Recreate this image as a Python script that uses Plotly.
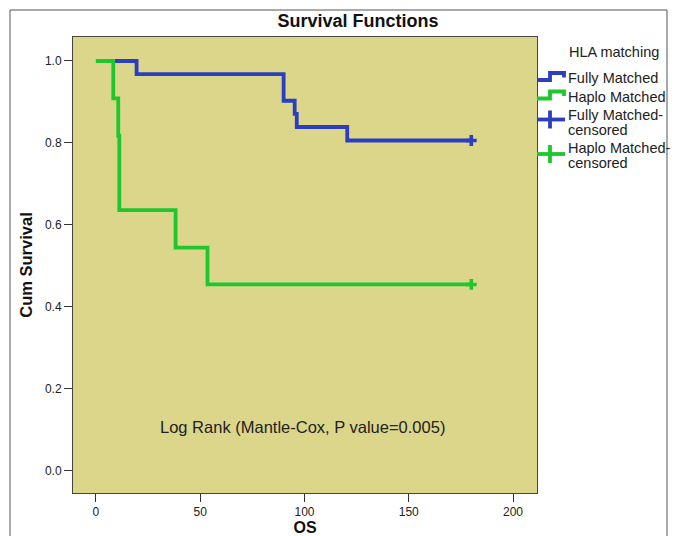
import plotly.graph_objects as go

# Data
fully_t = [0, 19.5, 90, 95.3, 96.3, 120.5, 180]
fully_s = [1.0, 0.968, 0.903, 0.871, 0.839, 0.806, 0.806]
haplo_t = [0, 8.3, 10.7, 11.2, 38.2, 53.5, 180]
haplo_s = [1.0, 0.909, 0.818, 0.636, 0.545, 0.455, 0.455]
fully_cens_t = [180]
fully_cens_s = [0.806]
haplo_cens_t = [180]
haplo_cens_s = [0.455]
x_ticks = [0, 50, 100, 150, 200]
y_ticks = [0.0, 0.2, 0.4, 0.6, 0.8, 1.0]
legend_title = "HLA matching"
legend_lines = [("Fully Matched", 78), ("Haplo Matched", 97), ("Fully Matched-", 115), ("censored", 130),
                ("Haplo Matched-", 148), ("censored", 163)]

BLUE = "#2A3EBF"
GREEN = "#1EC72E"
BG = "#DCD68A"
FONT = "Liberation Sans, Arial, sans-serif"

fig = go.Figure()
fig.add_trace(go.Scatter(x=fully_t, y=fully_s, mode="lines", line=dict(color=BLUE, width=3.8, shape="hv"), showlegend=False))
fig.add_trace(go.Scatter(x=haplo_t, y=haplo_s, mode="lines", line=dict(color=GREEN, width=3.8, shape="hv"), showlegend=False))
fig.add_trace(go.Scatter(x=fully_cens_t, y=fully_cens_s, mode="markers", marker=dict(symbol="cross", size=9, color=BLUE), showlegend=False))
fig.add_trace(go.Scatter(x=haplo_cens_t, y=haplo_cens_s, mode="markers", marker=dict(symbol="cross", size=9, color=GREEN), showlegend=False))

L, R, T, B = 73, 143, 37, 43
PW, PH = 680 - L - R, 536 - T - B

def px(x):
    return (x - L) / PW

def py(y):
    return (T + PH - y) / PH

shapes = []
# outer frame
shapes.append(dict(type="rect", xref="paper", yref="paper", x0=px(10), x1=px(667), y0=py(560), y1=py(10),
                   line=dict(color="#555555", width=1), fillcolor="rgba(0,0,0,0)", layer="below"))

annotations = []
annotations.append(dict(text=legend_title, xref="paper", yref="paper", x=px(567), y=py(52.5), xanchor="left",
                        yanchor="middle", showarrow=False, font=dict(family=FONT, size=14.5, color="#222")))

def step_path(ylo_px, yhi_px, yend_px, color):
    x0, x1, x2 = px(537), px(550), px(564)
    return dict(type="path", xref="paper", yref="paper",
                path=f"M {x0} {py(ylo_px)} L {x1} {py(ylo_px)} L {x1} {py(yhi_px)} L {x2} {py(yhi_px)} L {x2} {py(yend_px)}",
                line=dict(color=color, width=3.8))

shapes.append(step_path(80, 73, 77.5, BLUE))
shapes.append(step_path(98.5, 91.5, 96, GREEN))
for yc, color in [(119.5, BLUE), (154, GREEN)]:
    shapes.append(dict(type="line", xref="paper", yref="paper", x0=px(537), x1=px(565), y0=py(yc), y1=py(yc),
                       line=dict(color=color, width=3.8)))
    shapes.append(dict(type="line", xref="paper", yref="paper", x0=px(550), x1=px(550), y0=py(yc - 9), y1=py(yc + 9),
                       line=dict(color=color, width=3.8)))

for lab, yy in legend_lines:
    annotations.append(dict(text=lab, xref="paper", yref="paper", x=px(566), y=py(yy), xanchor="left",
                            yanchor="middle", showarrow=False, align="left",
                            font=dict(family=FONT, size=14.5, color="#222")))

annotations.append(dict(text="Log Rank (Mantle-Cox, P value=0.005)", x=99, y=0.108, xref="x", yref="y",
                        showarrow=False, font=dict(family=FONT, size=16.5, color="#222")))

fig.update_layout(
    width=680, height=536,
    margin=dict(l=L, r=R, t=T, b=B, autoexpand=False),
    paper_bgcolor="white",
    plot_bgcolor=BG,
    title=dict(text="<b>Survival Functions</b>", x=358 / 680, xref="container", xanchor="center",
               y=1 - 21 / 536, yref="container", yanchor="middle", font=dict(family=FONT, size=18, color="#111")),
    shapes=shapes,
    annotations=annotations,
    showlegend=False,
    font=dict(family=FONT, color="#222"),
)
fig.update_xaxes(range=[-11, 211.5], tickvals=x_ticks, ticktext=[str(v) for v in x_ticks], automargin=False,
                 showgrid=False, zeroline=False, showline=True, mirror=True, linecolor="#444", linewidth=1,
                 ticks="outside", ticklen=8, tickcolor="#333", tickfont=dict(size=12, family=FONT),
                 title=dict(text="<b>OS</b>", font=dict(size=16, family=FONT, color="#111"), standoff=6))
fig.update_yaxes(range=[-0.0537, 1.0585], tickvals=y_ticks, ticktext=[f"{v:.1f}" for v in y_ticks], automargin=False,
                 showgrid=False, zeroline=False, showline=True, mirror=True, linecolor="#444", linewidth=1,
                 ticks="outside", ticklen=8, tickcolor="#333", tickfont=dict(size=12, family=FONT),
                 title=dict(text="<b>Cum Survival</b>", font=dict(size=16.5, family=FONT, color="#111"), standoff=8))

fig.write_html("out.html")
